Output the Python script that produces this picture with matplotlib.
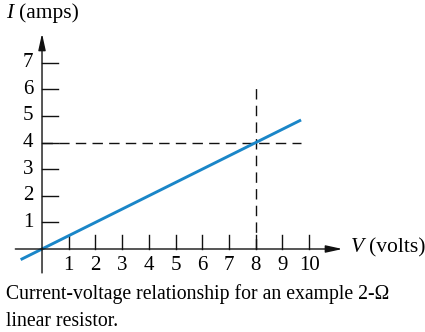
import matplotlib.pyplot as plt

plt.rcParams['font.family'] = ['Liberation Serif', 'DejaVu Serif']

# data
volts = [-0.8, 9.7]
amps = [-0.4, 4.85]
x_ticks = [1, 2, 3, 4, 5, 6, 7, 8, 9, 10]
y_ticks = [1, 2, 3, 4, 5, 6, 7]
op_v, op_i = 8, 4
caption = ["Current-voltage relationship for an example 2-\u03a9",
           "linear resistor."]

fig = plt.figure(figsize=(4.25, 3.32), dpi=100)
ax = fig.add_axes([0, 0, 1, 1])
ax.set_xlim(-1.573, 14.34)
ax.set_ylim(-3.12, 9.36)
ax.axis('off')

blk = '#111111'
# axes with arrows
ax.annotate('', xy=(11.25, 0), xytext=(-1.0, 0),
            arrowprops=dict(arrowstyle='-|>,head_length=1.0,head_width=0.22',
                            color=blk, lw=1.0, shrinkA=0, shrinkB=0))
ax.annotate('', xy=(0, 8.1), xytext=(0, -0.9),
            arrowprops=dict(arrowstyle='-|>,head_length=1.0,head_width=0.22',
                            color=blk, lw=1.0, shrinkA=0, shrinkB=0))

# ticks
for t in x_ticks:
    ax.plot([t, t], [0, 0.52], color=blk, lw=1.0)
    ax.text(t, -0.62, str(t), ha='center', va='center', fontsize=15)
for t in y_ticks:
    ax.plot([0, 0.58], [t, t], color=blk, lw=1.0)
    ax.text(-0.32, t, str(t), ha='right', va='center', fontsize=15)

# dashed guides
ax.plot([0, 9.7], [op_i, op_i], color=blk, lw=1.0, dashes=(7.5, 4.5))
ax.plot([op_v, op_v], [0, 6.2], color=blk, lw=1.0, dashes=(7.5, 4.5))

# I-V line
ax.plot(volts, amps, color='#1a86c8', lw=2.1, solid_capstyle='butt')

# axis labels
ax.text(-1.35, 8.85, 'I', fontstyle='italic', fontsize=15.5, va='center')
ax.text(-0.87, 8.85, '(amps)', fontsize=15.5, va='center')
ax.text(11.55, 0.05, 'V', fontstyle='italic', fontsize=15.5, va='center')
ax.text(12.25, 0.05, '(volts)', fontsize=15.5, va='center')

# caption
ax.text(-1.33, -1.68, caption[0], fontsize=14.2, va='center')
ax.text(-1.33, -2.74, caption[1], fontsize=14.2, va='center')

fig.savefig('out.png', dpi=100)
